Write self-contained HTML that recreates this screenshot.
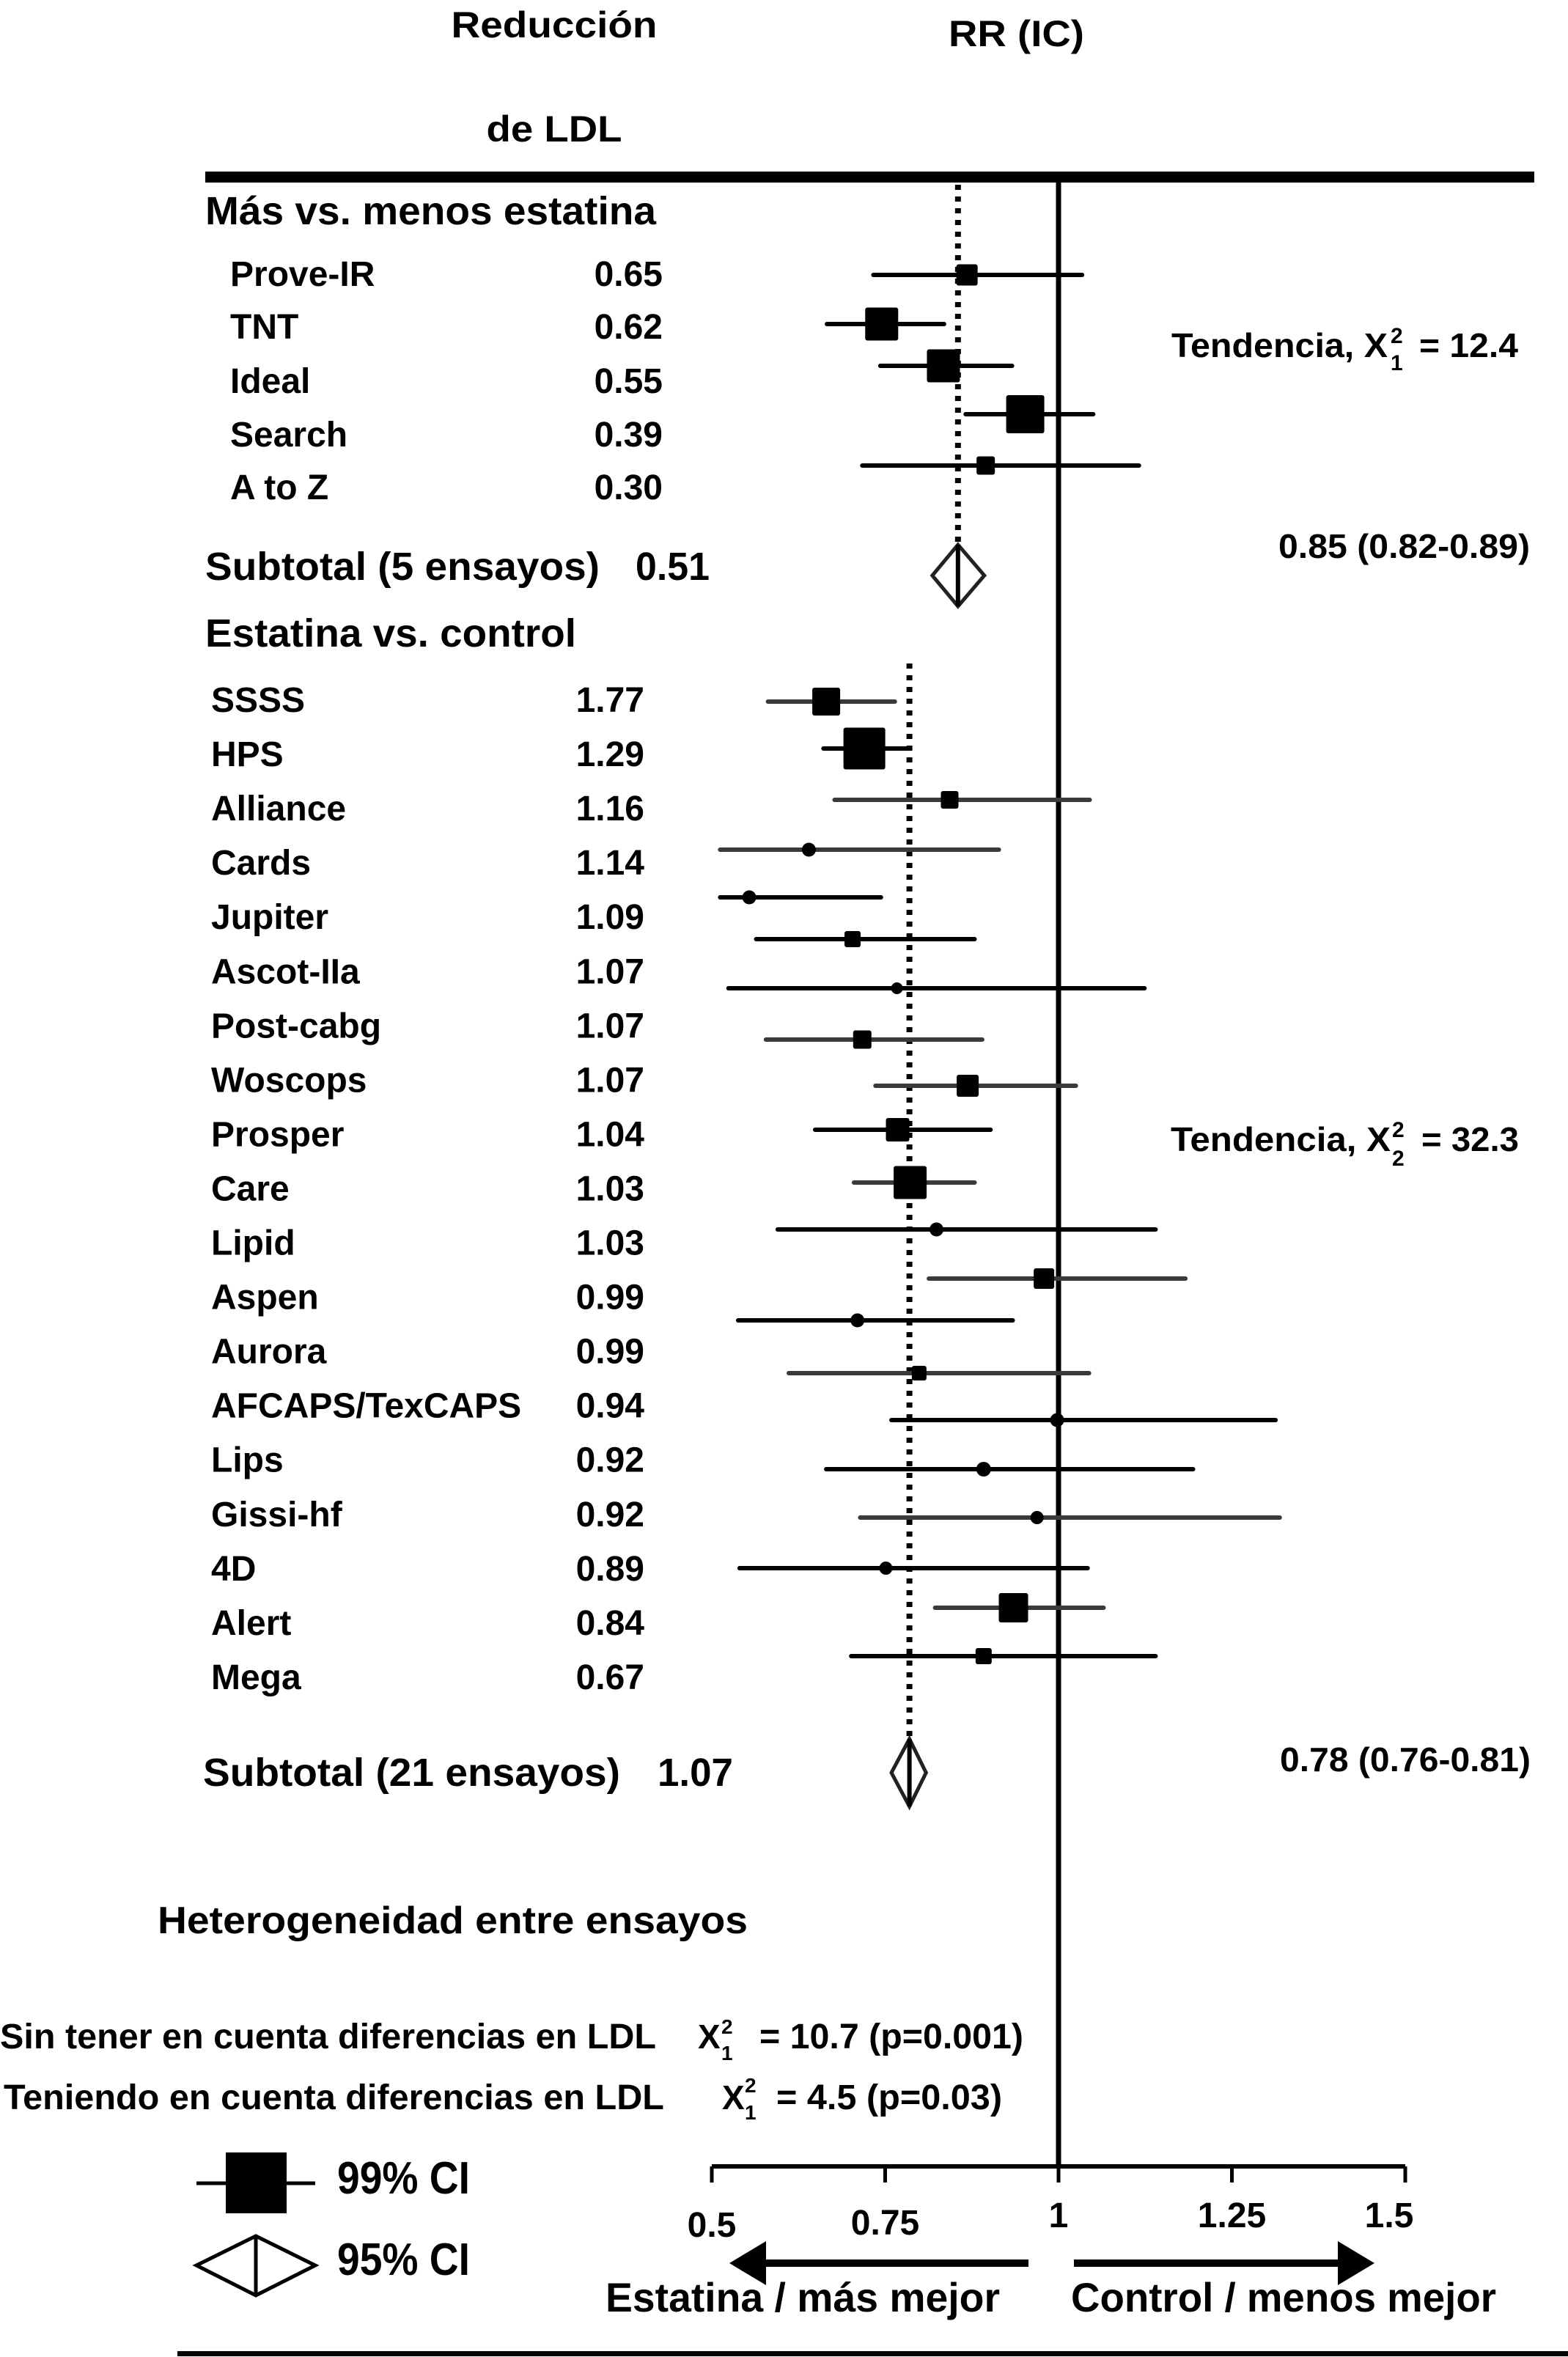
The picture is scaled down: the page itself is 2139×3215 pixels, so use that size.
<!DOCTYPE html>
<html><head><meta charset="utf-8"><title>Forest plot</title>
<style>
html,body{margin:0;padding:0;background:#fff;}
svg{display:block;}
text{font-family:"Liberation Sans",Arial,sans-serif;font-weight:bold;fill:#000;}
</style></head>
<body>
<svg id="chart" xmlns="http://www.w3.org/2000/svg" width="2139" height="3215" viewBox="0 0 2139 3215">
<rect x="0" y="0" width="2139" height="3215" fill="#fff"/>
<!-- headers -->
<text x="756" y="51" font-size="50" text-anchor="middle" textLength="281">Reducción</text>
<text x="756" y="193" font-size="50" text-anchor="middle" textLength="185">de LDL</text>
<text x="1294" y="63" font-size="50" textLength="185">RR (IC)</text>
<rect x="280" y="234" width="1813" height="15" fill="#000"/>
<!-- group 1 -->
<text x="280" y="306" font-size="54" textLength="615">Más vs. menos estatina</text>
<text x="280" y="791" font-size="54" textLength="538">Subtotal (5 ensayos)</text>
<text x="867" y="791" font-size="54" textLength="101">0.51</text>
<text x="1598" y="487" font-size="46" textLength="295">Tendencia, X</text>
<text x="1897" y="468" font-size="30">2</text>
<text x="1897" y="505" font-size="30">1</text>
<text x="1936" y="487" font-size="46" textLength="135">= 12.4</text>
<text x="1744" y="761" font-size="46" textLength="343">0.85 (0.82-0.89)</text>
<!-- group 2 -->
<text x="280" y="882" font-size="54" textLength="506">Estatina vs. control</text>
<text x="277" y="2436" font-size="54" textLength="569">Subtotal (21 ensayos)</text>
<text x="897" y="2436" font-size="54" textLength="103">1.07</text>
<text x="1597" y="1570" font-size="46" textLength="300">Tendencia, X</text>
<text x="1899" y="1551" font-size="30">2</text>
<text x="1899" y="1590" font-size="30">2</text>
<text x="1939" y="1570" font-size="46" textLength="133">= 32.3</text>
<text x="1746" y="2416" font-size="46" textLength="342">0.78 (0.76-0.81)</text>
<!-- heterogeneity -->
<text x="215" y="2637" font-size="52" textLength="805">Heterogeneidad entre ensayos</text>
<text x="0" y="2794" font-size="48" textLength="895">Sin tener en cuenta diferencias en LDL</text>
<text x="952" y="2794" font-size="46">X</text>
<text x="984" y="2774" font-size="28">2</text>
<text x="984" y="2810" font-size="28">1</text>
<text x="1036" y="2794" font-size="48" textLength="360">= 10.7 (p=0.001)</text>
<text x="5" y="2877" font-size="48" textLength="901">Teniendo en cuenta diferencias en LDL</text>
<text x="985" y="2877" font-size="46">X</text>
<text x="1016" y="2854" font-size="28">2</text>
<text x="1016" y="2891" font-size="28">1</text>
<text x="1059" y="2877" font-size="48" textLength="308">= 4.5 (p=0.03)</text>
<!-- legend -->
<g>
<line x1="268" y1="2978" x2="430" y2="2978" stroke="#000" stroke-width="5"/>
<rect x="308" y="2936" width="83" height="83" fill="#000"/>
<text x="460" y="2992" font-size="62" textLength="181">99% CI</text>
</g>
<g>
<polygon points="268,3090 349,3050 430,3090 349,3131" fill="#fff" stroke="#000" stroke-width="5"/>
<line x1="349" y1="3050" x2="349" y2="3131" stroke="#000" stroke-width="5"/>
<text x="460" y="3103" font-size="62" textLength="181">95% CI</text>
</g>
<!-- direction arrows -->
<g>
<rect x="1045" y="3082" width="358" height="10" fill="#000"/>
<polygon points="995,3087 1045,3057 1045,3117" fill="#000"/>
</g>
<g>
<rect x="1465" y="3082" width="360" height="10" fill="#000"/>
<polygon points="1875,3087 1825,3057 1825,3117" fill="#000"/>
</g>
<text x="826" y="3153" font-size="56" textLength="538">Estatina / más mejor</text>
<text x="1461" y="3153" font-size="56" textLength="580">Control / menos mejor</text>
<rect x="242" y="3207" width="1897" height="7" fill="#000"/>
<g id="plot"></g>
</svg>
<script>
// ---- data ----
const g1Trials = ["Prove-IR","TNT","Ideal","Search","A to Z"];
const g1Ldl = ["0.65","0.62","0.55","0.39","0.30"];
const g1Est = [0.868,0.745,0.834,0.952,0.895];
const g1Lo  = [0.733,0.666,0.743,0.866,0.717];
const g1Hi  = [1.034,0.835,0.933,1.050,1.116];
const g1Weight = [29,45,45,52,25];
const g1Pooled = [0.818,0.855,0.893];

const g2Trials = ["SSSS","HPS","Alliance","Cards","Jupiter","Ascot-IIa","Post-cabg","Woscops","Prosper","Care","Lipid","Aspen","Aurora","AFCAPS/TexCAPS","Lips","Gissi-hf","4D","Alert","Mega"];
const g2Ldl = ["1.77","1.29","1.16","1.14","1.09","1.07","1.07","1.07","1.04","1.03","1.03","0.99","0.99","0.94","0.92","0.92","0.89","0.84","0.67"];
const g2Est = [0.665,0.720,0.843,0.640,0.554,0.703,0.767,0.717,0.869,0.768,0.786,0.824,0.979,0.710,0.799,0.998,0.892,0.969,0.751,0.935,0.892];
const g2Lo  = [0.581,0.661,0.677,0.512,0.512,0.564,0.524,0.578,0.736,0.649,0.705,0.595,0.813,0.538,0.611,0.759,0.665,0.714,0.540,0.822,0.701];
const g2Hi  = [0.764,0.784,1.045,0.914,0.744,0.879,1.124,0.890,1.025,0.902,0.879,1.140,1.183,0.934,1.044,1.313,1.194,1.319,1.042,1.065,1.140];
const g2Weight = [38,57,24,19,19,22,16,25,30,32,45,19,28,19,20,19,20,18,18,40,22];
const g2Pooled = [0.759,0.785,0.809];

const tickValues = [0.5,0.75,1,1.25,1.5];
const tickLabels = ["0.5","0.75","1","1.25","1.5"];

// ---- layout ----
const NS = "http://www.w3.org/2000/svg";
const plot = document.getElementById("plot");
document.querySelectorAll("text[textLength]").forEach(t => t.setAttribute("lengthAdjust","spacingAndGlyphs"));
function x(v){ return 1444 + (v - 1) * 946; }
const g1RowY = [375,442,499,565,635];
const g2RowY = [957,1021,1091,1159,1224,1281,1348,1418,1481,1541,1613,1677,1744,1801,1873,1937,2004,2070,2139,2193,2259];
const g2Circle = [3,4,6,11,13,15,16,17,18];
const g2Gray = [0,2,3,7,8,10,12,14,17,19];
function mk(tag, attrs, parent){
  const e = document.createElementNS(NS, tag);
  for (const k in attrs) e.setAttribute(k, attrs[k]);
  (parent||plot).appendChild(e);
  return e;
}

// reference line and axis
const ref = mk("line",{x1:x(1),y1:249,x2:x(1),y2:2958,stroke:"#000","stroke-width":7});


const axis = mk("line",{x1:x(0.5),y1:2955,x2:x(1.5),y2:2955,stroke:"#000","stroke-width":6});


tickValues.forEach((t,i)=>{
  const tk = mk("line",{x1:x(t),y1:2955,x2:x(t),y2:2977,stroke:"#000","stroke-width":5});
  
  
  const by = t < 1 ? (t===0.5?3051:3048) : 3038;
  const dx = t === 1.5 ? -22 : 0;
  const lb = mk("text",{x:x(t)+dx,y:by,"font-size":48,"text-anchor":"middle"});
  lb.textContent = tickLabels[i];
  
  
});

// pooled dotted lines
function dotted(v, y1, y2){
  const l = mk("line",{x1:x(v),y1:y1,x2:x(v),y2:y2,stroke:"#000","stroke-width":8,"stroke-dasharray":"7 9"});
  
  
}
dotted(g1Pooled[1], 252, 745);
dotted(g2Pooled[1], 905, 2372);

function diamond(p, yc, h, name){
  const d = mk("polygon",{points:`${x(p[0])},${yc} ${x(p[1])},${yc-h} ${x(p[2])},${yc} ${x(p[1])},${yc+h}`,fill:"#fff",stroke:"#222","stroke-width":5});
  
  
  const v = mk("line",{x1:x(p[1]),y1:yc-h,x2:x(p[1]),y2:yc+h,stroke:"#000","stroke-width":6});
  
  
}
diamond(g1Pooled, 785, 42, 'group1-pooled-diamond');
diamond(g2Pooled, 2418, 46, 'group2-pooled-diamond');

function trial(est, lo, hi, w, y, gray, circle){
  const ci = mk("line",{x1:x(lo),y1:y,x2:x(hi),y2:y,stroke:gray?"#3a3a3a":"#000","stroke-width":6,"stroke-linecap":"round"});
  
  
  const m = mk("rect",{x:x(est)-w/2,y:y-w/2,width:w,height:w,rx:circle?w/2:3,fill:"#000"});
  
  
}
g1Est.forEach((e,i)=>trial(e,g1Lo[i],g1Hi[i],g1Weight[i],g1RowY[i],false,false));
g2Est.forEach((e,i)=>trial(e,g2Lo[i],g2Hi[i],g2Weight[i],g2RowY[i],g2Gray.includes(i),g2Circle.includes(i)));

// labels
g1Trials.forEach((n,i)=>{
  const by = [390,462,536,609,681][i];
  const t = mk("text",{x:314,y:by,"font-size":48}); t.textContent = n;
  
  
  const v = mk("text",{x:904,y:by,"font-size":48,"text-anchor":"end"}); v.textContent = g1Ldl[i];
  
  
});
g2Trials.forEach((n,i)=>{
  const by = 971 + i * 74.05;
  const t = mk("text",{x:288,y:by,"font-size":48}); t.textContent = n;
  
  
  const v = mk("text",{x:879,y:by,"font-size":48,"text-anchor":"end"}); v.textContent = g2Ldl[i];
  
  
});
</script>
</body></html>
